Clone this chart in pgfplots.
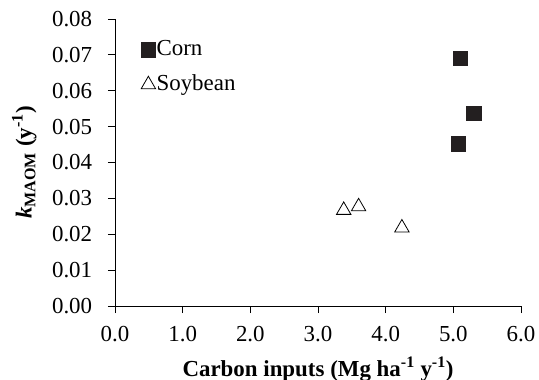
\documentclass[border=0pt]{standalone}
\usepackage{pgfplots}
\pgfplotsset{compat=1.18}
\usepackage{fontspec}
\setmainfont{Liberation Serif}
\definecolor{sq}{HTML}{231F20}
\begin{document}
\fontsize{23}{27}\selectfont
\begin{tikzpicture}
\begin{axis}[
  scale only axis,
  width=406bp, height=287bp,
  at={(0,0)}, anchor=origin,
  xmin=0, xmax=6, ymin=0, ymax=0.08,
  axis x line*=bottom, axis y line*=left,
  axis line style={black, line width=1pt, -},
  xtick={0,1,...,6}, ytick={0,0.01,...,0.08},
  tick align=outside, tick style={black, line width=1pt},
  major tick length=7bp,
  /pgf/number format/assume math mode=true,
  xticklabel style={yshift=-5bp, /pgf/number format/.cd, fixed, fixed zerofill, precision=1},
  yticklabel style={xshift=-8bp, /pgf/number format/.cd, fixed, fixed zerofill, precision=2},
  scaled y ticks=false,
  tick label style={font=\fontsize{23}{27}\selectfont},
  xlabel={\textbf{Carbon inputs (Mg ha\textsuperscript{-1} y\textsuperscript{-1})}},
  ylabel={\textbf{\textit{k}\textsubscript{MAOM} (y\textsuperscript{-1})}},
  label style={font=\fontsize{23}{27}\selectfont},
  xlabel style={yshift=0bp},
  ylabel style={yshift=0bp},
  legend style={draw=none, fill=none, at={(0.064,0.93)}, anchor=north west,
    inner sep=0pt, font=\fontsize{23}{27}\selectfont, row sep=14bp,
    nodes={inner sep=1bp},
    /tikz/every even column/.append style={column sep=0pt}},
  legend cell align=left,
  legend image code/.code={\draw[#1] plot coordinates {(7.5bp,0bp)};},
]
\addplot[only marks, mark=square*, mark size=7.2bp, mark options={fill=sq, draw=sq}]
  coordinates {(5.10,0.0690) (5.30,0.0538) (5.07,0.0452)};
\addlegendentry{Corn}
\addplot[only marks, mark=triangle, mark size=8.3bp, mark options={draw=black, fill=white, line width=0.8pt}]
  coordinates {(3.38,0.0267) (3.60,0.0277) (4.24,0.0218)};
\addlegendentry{Soybean}
\end{axis}
\pgfresetboundingbox
\path (-115bp,-74bp) rectangle (424bp,306bp);
\end{tikzpicture}
\end{document}
